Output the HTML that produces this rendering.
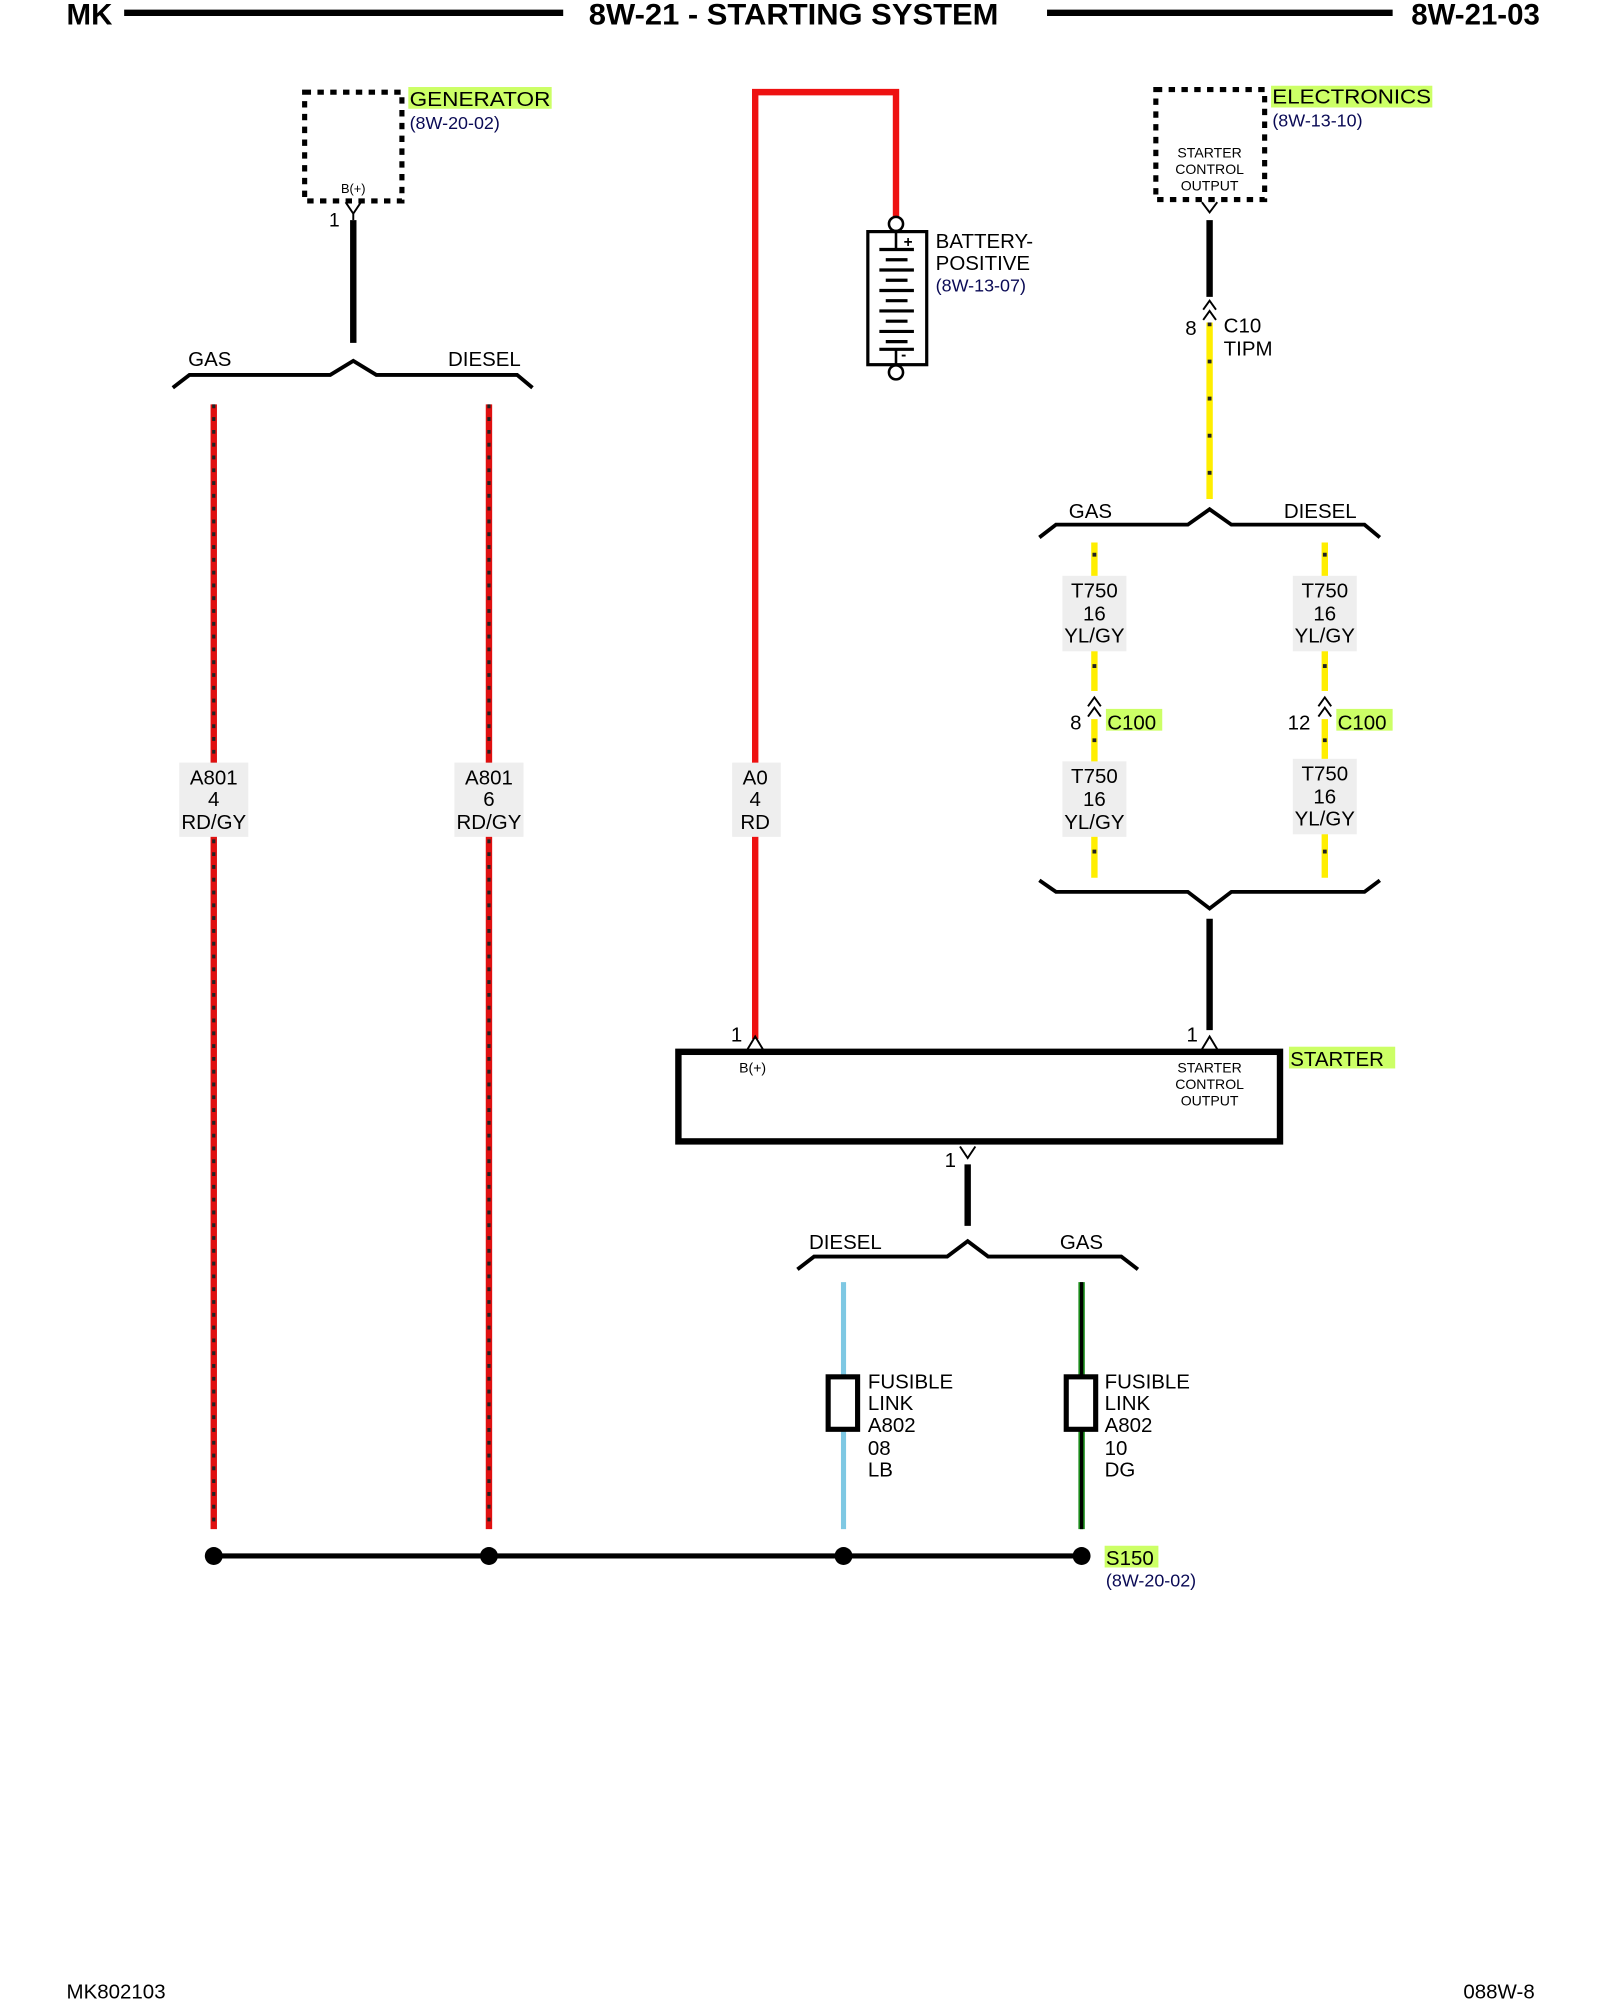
<!DOCTYPE html>
<html><head><meta charset="utf-8"><style>
html,body{margin:0;padding:0;background:#fff;}
svg{display:block;}
text{font-family:"Liberation Sans",Arial,sans-serif;fill:#000;}
</style></head><body>
<svg width="1600" height="2000" viewBox="0 0 1250 1563" preserveAspectRatio="none" xmlns="http://www.w3.org/2000/svg">
<!-- header -->
<text x="52" y="19" font-size="23" font-weight="bold">MK</text>
<line x1="97" y1="10" x2="440" y2="10" stroke="#000" stroke-width="5"/>
<text x="620" y="19" font-size="23" font-weight="bold" text-anchor="middle" textLength="320" lengthAdjust="spacingAndGlyphs">8W-21 - STARTING SYSTEM</text>
<line x1="818" y1="10" x2="1088" y2="10" stroke="#000" stroke-width="5"/>
<text x="1203" y="19" font-size="23" font-weight="bold" text-anchor="end">8W-21-03</text>

<!-- generator -->
<rect x="238" y="72" width="76" height="85" fill="none" stroke="#000" stroke-width="4" stroke-dasharray="5 5"/>
<rect x="319" y="68" width="112" height="17" fill="#ccff66"/>
<text x="320" y="83" font-size="16" textLength="110" lengthAdjust="spacingAndGlyphs">GENERATOR</text>
<text x="320" y="101" font-size="14" style="fill:#0a0a55">(8W-20-02)</text>
<text x="276" y="151" font-size="10" text-anchor="middle">B(+)</text>
<text x="257" y="177" font-size="15">1</text>
<path d="M270 158 L276 167 L282 158 M276 167 V172" fill="none" stroke="#000" stroke-width="1.5"/>
<line x1="276" y1="172" x2="276" y2="268" stroke="#000" stroke-width="5"/>
<polyline points="135,303 148,293 258,293 276,282 294,293 404,293 416,303" fill="none" stroke="#000" stroke-width="3"/>
<text x="147" y="286" font-size="16">GAS</text>
<text x="350" y="286" font-size="16">DIESEL</text>

<!-- red/gy wires -->
<g stroke-width="5">
<line x1="167" y1="316" x2="167" y2="1195" stroke="#e01010"/>
<line x1="382" y1="316" x2="382" y2="1195" stroke="#e01010"/>
</g>
<g stroke="#222" stroke-width="2.5" stroke-dasharray="3 7">
<line x1="167" y1="316" x2="167" y2="1195"/>
<line x1="382" y1="316" x2="382" y2="1195"/>
</g>
<rect x="140" y="596" width="54" height="58" fill="#eeeeee"/>
<rect x="355" y="596" width="54" height="58" fill="#eeeeee"/>
<g font-size="16" text-anchor="middle">
<text x="167" y="613">A801</text><text x="167" y="630">4</text><text x="167" y="648">RD/GY</text>
<text x="382" y="613">A801</text><text x="382" y="630">6</text><text x="382" y="648">RD/GY</text>
</g>

<!-- battery red wire -->
<polyline points="590,812 590,72 700,72 700,170" fill="none" stroke="#ee1111" stroke-width="5"/>
<rect x="572" y="596" width="38" height="58" fill="#eeeeee"/>
<g font-size="16" text-anchor="middle">
<text x="590" y="613">A0</text><text x="590" y="630">4</text><text x="590" y="648">RD</text>
</g>
<circle cx="700" cy="175" r="5.5" fill="#fff" stroke="#000" stroke-width="2"/>
<rect x="678" y="181" width="46" height="104" fill="none" stroke="#000" stroke-width="2.5"/>
<line x1="700" y1="181" x2="700" y2="194" stroke="#000" stroke-width="2"/>
<line x1="700" y1="272" x2="700" y2="285" stroke="#000" stroke-width="2"/>
<g stroke="#000" stroke-width="2.5">
<line x1="687" y1="195" x2="714" y2="195"/>
<line x1="692" y1="203" x2="709" y2="203"/>
<line x1="687" y1="211" x2="714" y2="211"/>
<line x1="692" y1="219" x2="709" y2="219"/>
<line x1="687" y1="227" x2="714" y2="227"/>
<line x1="692" y1="235" x2="709" y2="235"/>
<line x1="687" y1="243" x2="714" y2="243"/>
<line x1="692" y1="251" x2="709" y2="251"/>
<line x1="687" y1="259" x2="714" y2="259"/>
<line x1="692" y1="267" x2="709" y2="267"/>
<line x1="687" y1="273" x2="714" y2="273"/>
</g>
<text x="706" y="193" font-size="12" font-weight="bold">+</text>
<text x="704" y="281" font-size="12" font-weight="bold">-</text>
<circle cx="700" cy="291" r="5.5" fill="#fff" stroke="#000" stroke-width="2"/>
<text x="731" y="194" font-size="16">BATTERY-</text>
<text x="731" y="211" font-size="16">POSITIVE</text>
<text x="731" y="228" font-size="14" style="fill:#0a0a55">(8W-13-07)</text>

<!-- electronics -->
<rect x="903" y="70" width="85" height="86" fill="none" stroke="#000" stroke-width="4" stroke-dasharray="5 5"/>
<rect x="993" y="67" width="126" height="17" fill="#ccff66"/>
<text x="994" y="81" font-size="16" textLength="124" lengthAdjust="spacingAndGlyphs">ELECTRONICS</text>
<text x="994" y="99" font-size="14" style="fill:#0a0a55">(8W-13-10)</text>
<g font-size="11" text-anchor="middle">
<text x="945" y="123">STARTER</text><text x="945" y="136">CONTROL</text><text x="945" y="149">OUTPUT</text>
</g>
<path d="M939 158 L945 166 L951 158" fill="none" stroke="#000" stroke-width="1.5"/>
<line x1="945" y1="172" x2="945" y2="232" stroke="#000" stroke-width="5"/>
<path d="M940 242 L945 235 L950 242 M940 250 L945 243 L950 250" fill="none" stroke="#000" stroke-width="1.5"/>
<text x="926" y="262" font-size="16">8</text>
<text x="956" y="260" font-size="16">C10</text>
<text x="956" y="278" font-size="16">TIPM</text>
<line x1="945" y1="252" x2="945" y2="390" stroke="#ffee00" stroke-width="5"/>
<line x1="945" y1="252" x2="945" y2="390" stroke="#222" stroke-width="3" stroke-dasharray="3 26"/>
<polyline points="812,420 825,410 928,410 945,398 962,410 1066,410 1078,420" fill="none" stroke="#000" stroke-width="3"/>
<text x="835" y="405" font-size="16">GAS</text>
<text x="1003" y="405" font-size="16">DIESEL</text>

<!-- yellow T750 wires -->
<g stroke="#ffee00" stroke-width="5">
<line x1="855" y1="424" x2="855" y2="686"/>
<line x1="1035" y1="424" x2="1035" y2="686"/>
</g>
<g stroke="#222" stroke-width="3" stroke-dasharray="3 26">
<line x1="855" y1="432" x2="855" y2="686"/>
<line x1="1035" y1="432" x2="1035" y2="686"/>
</g>
<g fill="#eeeeee">
<rect x="830" y="450" width="50" height="59"/><rect x="1010" y="450" width="50" height="59"/>
<rect x="830" y="595" width="50" height="59"/><rect x="1010" y="593" width="50" height="59"/>
<rect x="850" y="540" width="10" height="22" fill="#fff"/><rect x="1030" y="540" width="10" height="22" fill="#fff"/>
</g>
<g font-size="16" text-anchor="middle">
<text x="855" y="467">T750</text><text x="855" y="485">16</text><text x="855" y="502">YL/GY</text>
<text x="1035" y="467">T750</text><text x="1035" y="485">16</text><text x="1035" y="502">YL/GY</text>
<text x="855" y="612">T750</text><text x="855" y="630">16</text><text x="855" y="648">YL/GY</text>
<text x="1035" y="610">T750</text><text x="1035" y="628">16</text><text x="1035" y="645">YL/GY</text>
</g>
<path d="M850 552 L855 545 L860 552 M850 560 L855 553 L860 560 M1030 552 L1035 545 L1040 552 M1030 560 L1035 553 L1040 560" fill="none" stroke="#000" stroke-width="1.5"/>
<text x="836" y="570" font-size="16">8</text>
<rect x="864" y="554" width="44" height="17" fill="#ccff66"/>
<text x="865" y="570" font-size="16">C100</text>
<text x="1006" y="570" font-size="16">12</text>
<rect x="1044" y="554" width="44" height="17" fill="#ccff66"/>
<text x="1045" y="570" font-size="16">C100</text>
<polyline points="812,688 825,697 928,697 945,710 962,697 1066,697 1078,688" fill="none" stroke="#000" stroke-width="3"/>
<line x1="945" y1="718" x2="945" y2="805" stroke="#000" stroke-width="5"/>

<!-- starter -->
<path d="M584 820 L590 810 L596 820 M939 820 L945 810 L951 820" fill="none" stroke="#000" stroke-width="1.5"/>
<text x="571" y="814" font-size="16">1</text>
<text x="927" y="814" font-size="16">1</text>
<rect x="530" y="822" width="470" height="70" fill="#fff" stroke="#000" stroke-width="5"/>
<text x="588" y="838" font-size="11" text-anchor="middle">B(+)</text>
<g font-size="11" text-anchor="middle">
<text x="945" y="838">STARTER</text><text x="945" y="851">CONTROL</text><text x="945" y="864">OUTPUT</text>
</g>
<rect x="1007" y="818" width="83" height="17" fill="#ccff66"/>
<text x="1008" y="833" font-size="16">STARTER</text>
<path d="M750 896 L756 905 L762 896" fill="none" stroke="#000" stroke-width="1.5"/>
<text x="738" y="912" font-size="16">1</text>
<line x1="756" y1="910" x2="756" y2="958" stroke="#000" stroke-width="5"/>
<polyline points="623,992 636,982 740,982 756,970 772,982 876,982 889,992" fill="none" stroke="#000" stroke-width="3"/>
<text x="632" y="976" font-size="16">DIESEL</text>
<text x="828" y="976" font-size="16">GAS</text>

<!-- fusible links -->
<line x1="659" y1="1002" x2="659" y2="1195" stroke="#7ec8e3" stroke-width="4"/>
<line x1="845" y1="1002" x2="845" y2="1195" stroke="#1a8a1a" stroke-width="5"/>
<line x1="845" y1="1002" x2="845" y2="1195" stroke="#000" stroke-width="2.5"/>
<rect x="647" y="1076" width="23" height="41" fill="#fff" stroke="#000" stroke-width="4"/>
<rect x="833" y="1076" width="23" height="41" fill="#fff" stroke="#000" stroke-width="4"/>
<g font-size="16">
<text x="678" y="1085">FUSIBLE</text><text x="678" y="1102">LINK</text><text x="678" y="1119">A802</text><text x="678" y="1137">08</text><text x="678" y="1154">LB</text>
<text x="863" y="1085">FUSIBLE</text><text x="863" y="1102">LINK</text><text x="863" y="1119">A802</text><text x="863" y="1137">10</text><text x="863" y="1154">DG</text>
</g>

<!-- splice -->
<line x1="167" y1="1216" x2="845" y2="1216" stroke="#000" stroke-width="4"/>
<g fill="#000"><circle cx="167" cy="1216" r="7"/><circle cx="382" cy="1216" r="7"/><circle cx="659" cy="1216" r="7"/><circle cx="845" cy="1216" r="7"/></g>
<rect x="863" y="1208" width="42" height="17" fill="#ccff66"/>
<text x="864" y="1223" font-size="16">S150</text>
<text x="864" y="1240" font-size="14" style="fill:#0a0a55">(8W-20-02)</text>

<!-- footer -->
<text x="52" y="1562" font-size="16">MK802103</text>
<text x="1199" y="1562" font-size="16" text-anchor="end">088W-8</text>
</svg>
</body></html>
